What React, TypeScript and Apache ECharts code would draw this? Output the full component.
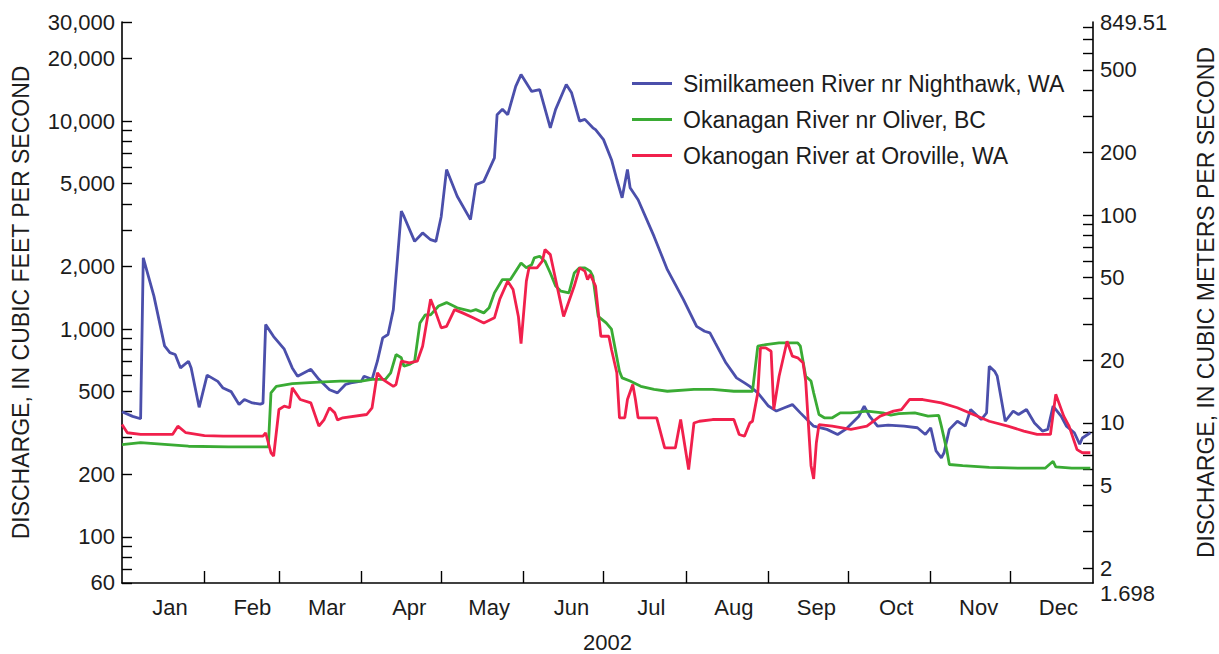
import React, { useEffect, useRef } from "react";
import * as echarts from "echarts";

const YEAR = 2002;
const MONTHS = ["Jan", "Feb", "Mar", "Apr", "May", "Jun", "Jul", "Aug", "Sep", "Oct", "Nov", "Dec"];
const LABEL_DAY = 19;
const CFS_TO_CMS = 0.0283168;
const LEFT_MIN = 60;
const LEFT_MAX = 30000;
const LEFT_TICK_LABELS = [60, 100, 200, 500, 1000, 2000, 5000, 10000, 20000, 30000];
const RIGHT_TICK_LABELS = [2, 5, 10, 20, 50, 100, 200, 500, 849.51];
const RIGHT_MIN_LABEL = "1.698";

const SERIES_NAMES = [
  "Similkameen River nr Nighthawk, WA",
  "Okanagan River nr Oliver, BC",
  "Okanogan River at Oroville, WA",
];
const SERIES_COLORS = ["#4b4fab", "#3aab34", "#f1204c"];

// [day offset from Jan 1 2002, discharge in cubic feet per second]
const similkameen: [number, number][] = [
  [0, 400], [4, 380], [7, 370], [8, 2200], [12, 1440], [16, 830], [18, 770], [20, 754], [22, 650],
  [25, 700], [26, 650], [29, 420], [32, 600], [36, 560], [38, 520], [41, 500], [44, 433], [46, 458],
  [49, 441], [52, 435], [53, 440], [54, 1050], [57, 920], [61, 800], [64, 650], [66, 593], [71, 640],
  [74, 573], [78, 510], [81, 493], [84, 541], [86, 551], [90, 562], [91, 593], [94, 573], [96, 700],
  [98, 907], [100, 941], [102, 1240], [103, 1790], [105, 3690], [106, 3480], [110, 2640], [113, 2900],
  [116, 2690], [118, 2640], [120, 3480], [122, 5850], [126, 4350], [131, 3360], [133, 4950], [136, 5130],
  [138, 5850], [140, 6660], [141, 10750], [143, 11400], [145, 10750], [148, 14700], [150, 16750],
  [154, 13900], [157, 14200], [161, 9290], [163, 11400], [167, 15000], [169, 13700], [172, 10000],
  [174, 10200], [177, 9290], [178, 9100], [181, 8150], [184, 6530], [186, 5240], [188, 4280], [190, 5850],
  [191, 4780], [194, 4190], [200, 2790], [205, 1930], [211, 1390], [216, 1030], [219, 976], [221, 959],
  [223, 858], [227, 688], [231, 582], [234, 551], [236, 530], [239, 493], [243, 426], [246, 403],
  [249, 418], [252, 433], [255, 395], [260, 341], [265, 329], [269, 311], [272, 329], [277, 381],
  [279, 426], [281, 381], [284, 341], [288, 345], [294, 341], [299, 335], [302, 311], [304, 335],
  [306, 259], [308, 240], [309, 254], [311, 329], [314, 360], [317, 341], [319, 410], [323, 367],
  [325, 395], [326, 662], [328, 627], [329, 593], [332, 360], [335, 403], [337, 388], [340, 410],
  [343, 353], [346, 323], [348, 329], [350, 426], [353, 381], [355, 341], [358, 317], [360, 279],
  [361, 299], [364, 317],
];

const okanaganOliver: [number, number][] = [
  [0, 278], [7, 284], [25, 273], [40, 271], [55, 271], [56, 493], [58, 530], [64, 546], [74, 555],
  [82, 562], [90, 562], [94, 573], [99, 573], [101, 616], [103, 754], [105, 727], [106, 662], [108, 675],
  [110, 700], [112, 1070], [114, 1170], [116, 1170], [119, 1290], [122, 1340], [126, 1265], [131, 1218],
  [133, 1240], [136, 1196], [138, 1265], [140, 1493], [143, 1730], [146, 1730], [150, 2080], [152, 1970],
  [154, 2040], [155, 2200], [157, 2240], [159, 2120], [161, 1860], [163, 1610], [165, 1520], [168, 1493],
  [170, 1860], [172, 1970], [174, 1970], [176, 1900], [177, 1790], [179, 1150], [182, 1070], [184, 998],
  [187, 627], [188, 582], [191, 562], [195, 530], [200, 512], [205, 502], [215, 512], [222, 512],
  [230, 502], [237, 502], [239, 827], [242, 842], [247, 858], [254, 858], [255, 827], [257, 593],
  [259, 562], [260, 493], [262, 388], [264, 374], [267, 374], [270, 395], [274, 395], [280, 403],
  [286, 395], [289, 385], [292, 392], [298, 395], [303, 381], [307, 384], [308, 341], [310, 263],
  [311, 223], [316, 220], [326, 216], [338, 214], [347, 214], [350, 231], [351, 217], [357, 214],
  [364, 214],
];

const okanoganOroville: [number, number][] = [
  [0, 347], [2, 317], [7, 311], [19, 311], [21, 341], [24, 317], [31, 307], [38, 305], [53, 305],
  [54, 317], [56, 254], [57, 245], [59, 410], [61, 426], [63, 418], [64, 521], [67, 458], [71, 441],
  [74, 341], [76, 367], [78, 418], [80, 395], [81, 365], [83, 374], [92, 388], [94, 418], [96, 616],
  [98, 573], [102, 530], [103, 541], [105, 700], [108, 688], [111, 700], [113, 827], [116, 1390],
  [118, 1196], [120, 1013], [122, 1030], [125, 1240], [128, 1196], [132, 1132], [136, 1070], [140, 1132],
  [142, 1390], [145, 1700], [147, 1550], [149, 1150], [150, 850], [152, 1700], [153, 1970], [156, 1970],
  [158, 2120], [159, 2410], [161, 2280], [163, 1730], [166, 1150], [170, 1610], [172, 1970], [174, 1900],
  [175, 1730], [176, 1830], [178, 1610], [180, 923], [183, 923], [184, 797], [186, 616], [187, 374],
  [189, 374], [190, 458], [192, 541], [193, 458], [194, 374], [201, 374], [204, 268], [208, 268],
  [210, 367], [213, 211], [215, 353], [217, 360], [222, 367], [230, 367], [232, 311], [234, 305],
  [236, 353], [237, 360], [239, 493], [240, 812], [242, 812], [244, 782], [245, 410], [247, 593],
  [250, 874], [252, 740], [254, 727], [256, 688], [257, 562], [259, 220], [260, 190], [261, 283],
  [262, 347], [267, 341], [274, 329], [280, 341], [285, 381], [290, 403], [293, 410], [296, 458],
  [301, 458], [308, 441], [314, 418], [320, 388], [326, 360], [333, 341], [339, 323], [344, 311],
  [349, 311], [351, 485], [354, 381], [356, 341], [359, 263], [361, 254], [364, 254],
];

const FONT = "'Liberation Sans', Arial, Helvetica, sans-serif";
const TEXT_COLOR = "#1c1c1c";
const DAY_MS = 86400000;

function dayOfYear(month: number, day: number): number {
  return Math.round((Date.UTC(YEAR, month, day) - Date.UTC(YEAR, 0, 1)) / DAY_MS);
}

function logMinorTicks(min: number, max: number): number[] {
  const out: number[] = [];
  for (let p = Math.floor(Math.log10(min)); p <= Math.ceil(Math.log10(max)); p++) {
    for (let m = 1; m <= 9; m++) {
      const v = m * Math.pow(10, p);
      if (v >= min * 0.9999 && v <= max * 1.0001) out.push(v);
    }
  }
  return out;
}

function clampInside(v: number, min: number, max: number): number {
  return Math.min(Math.max(v, min * 1.00001), max * 0.99999);
}

function nearestLabel(v: number, list: number[]): number {
  let best = list[0];
  let bestD = Infinity;
  for (const l of list) {
    const d = Math.abs(Math.log(v) - Math.log(l));
    if (d < bestD) {
      bestD = d;
      best = l;
    }
  }
  return best;
}

export default function App() {
  const ref = useRef<HTMLDivElement>(null);

  useEffect(() => {
    if (!ref.current) return;
    const chart = echarts.init(ref.current, undefined, { renderer: "svg" });

    const rightMin = LEFT_MIN * CFS_TO_CMS;
    const rightMax = LEFT_MAX * CFS_TO_CMS;
    const yearDays = dayOfYear(12, 1);

    const monthStarts = MONTHS.slice(1).map((_, i) => dayOfYear(i + 1, 1));
    const monthLabelPos = MONTHS.map((_, i) => dayOfYear(i, LABEL_DAY));

    const axisLine = { show: true, lineStyle: { color: "#000", width: 1.6 } };
    const tickStyle = { color: "#000", width: 1.4 };
    const labelBase = { show: true, fontFamily: FONT, fontSize: 22, color: TEXT_COLOR };

    const seriesData = [similkameen, okanaganOliver, okanoganOroville];

    const monthOf = (d: number) => {
      let m = 0;
      for (let i = 0; i < 12; i++) if (d >= dayOfYear(i, 1)) m = i;
      return MONTHS[m];
    };

    chart.setOption({
      animation: false,
      backgroundColor: "#fff",
      grid: {
        left: 122,
        right: 126,
        top: 22,
        bottom: 71,
        containLabel: false,
        outerBoundsMode: "none",
      },
      legend: {
        orient: "vertical",
        left: 632,
        top: 72,
        padding: 0,
        itemWidth: 40,
        itemHeight: 3,
        itemGap: 13,
        icon: "rect",
        textStyle: { fontFamily: FONT, fontSize: 23, color: TEXT_COLOR, padding: [0, 0, 0, 6] },
        data: SERIES_NAMES,
      },
      xAxis: {
        type: "value",
        min: 0,
        max: yearDays,
        name: String(YEAR),
        nameLocation: "middle",
        nameGap: 48,
        nameTextStyle: { fontFamily: FONT, fontSize: 22, color: TEXT_COLOR },
        axisLine,
        axisTick: { show: true, inside: true, length: 12, lineStyle: tickStyle, customValues: monthStarts },
        axisLabel: {
          ...labelBase,
          margin: 13,
          showMinLabel: true,
          showMaxLabel: true,
          customValues: monthLabelPos,
          formatter: (v: number) => monthOf(v),
        },
        splitLine: { show: false },
      },
      yAxis: [
        {
          type: "log",
          logBase: 10,
          min: LEFT_MIN,
          max: LEFT_MAX,
          position: "left",
          name: "DISCHARGE, IN CUBIC FEET PER SECOND",
          nameLocation: "middle",
          nameGap: 90,
          nameTextStyle: { fontFamily: FONT, fontSize: 23, color: TEXT_COLOR },
          axisLine,
          axisTick: {
            show: true,
            inside: true,
            length: 10,
            lineStyle: tickStyle,
            customValues: logMinorTicks(LEFT_MIN, LEFT_MAX).map((v) => clampInside(v, LEFT_MIN, LEFT_MAX)),
          },
          axisLabel: {
            ...labelBase,
            margin: 7,
            showMinLabel: true,
            showMaxLabel: true,
            customValues: LEFT_TICK_LABELS.map((v) => clampInside(v, LEFT_MIN, LEFT_MAX)),
            formatter: (v: number) => nearestLabel(v, LEFT_TICK_LABELS).toLocaleString("en-US"),
          },
          splitLine: { show: false },
        },
        {
          type: "log",
          logBase: 10,
          min: rightMin,
          max: rightMax,
          position: "right",
          name: "DISCHARGE, IN CUBIC METERS PER SECOND",
          nameLocation: "middle",
          nameGap: 101,
          nameTextStyle: { fontFamily: FONT, fontSize: 23, color: TEXT_COLOR },
          axisLine,
          axisTick: {
            show: true,
            inside: true,
            length: 10,
            lineStyle: tickStyle,
            customValues: logMinorTicks(rightMin, rightMax).map((v) => clampInside(v, rightMin, rightMax)),
          },
          axisLabel: {
            ...labelBase,
            margin: 7,
            showMinLabel: true,
            showMaxLabel: true,
            customValues: RIGHT_TICK_LABELS.map((v) => clampInside(v, rightMin, rightMax)),
            formatter: (v: number) => String(nearestLabel(v, RIGHT_TICK_LABELS)),
          },
          splitLine: { show: false },
        },
        {
          // carries only the bottom (minimum) metric label, set just below the "2" label
          type: "log",
          logBase: 10,
          min: rightMin,
          max: rightMax,
          position: "right",
          axisLine: { show: false },
          axisTick: { show: false },
          axisLabel: {
            ...labelBase,
            margin: 7,
            verticalAlign: "top",
            showMinLabel: true,
            customValues: [rightMin * 1.00001],
            formatter: () => RIGHT_MIN_LABEL,
          },
          splitLine: { show: false },
        },
      ],
      series: SERIES_NAMES.map((name, i) => ({
        name,
        type: "line",
        yAxisIndex: 0,
        symbol: "none",
        showSymbol: false,
        smooth: false,
        color: SERIES_COLORS[i],
        lineStyle: { color: SERIES_COLORS[i], width: 2.8 },
        data: seriesData[i],
        z: 2 + i,
      })),
    });

    return () => {
      chart.dispose();
    };
  }, []);

  return (
    <div
      ref={ref}
      style={{ position: "absolute", left: 0, top: 0, width: 1219, height: 654, background: "#fff" }}
    />
  );
}
